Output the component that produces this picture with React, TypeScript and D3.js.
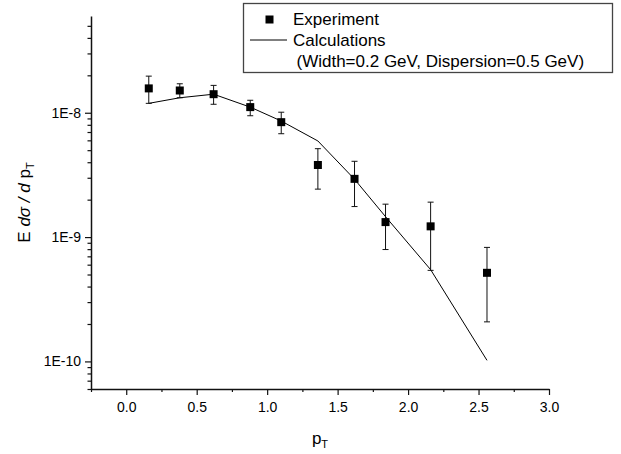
import React, { useEffect, useRef } from 'react';
import * as d3 from 'd3';

// measured points (pT, value, error low, error high)
const expPt = [0.16, 0.38, 0.62, 0.88, 1.1, 1.36, 1.62, 1.84, 2.16, 2.56];
const expVal = [1.57e-8, 1.51e-8, 1.41e-8, 1.11e-8, 8.4e-9, 3.8e-9, 2.94e-9, 1.32e-9, 1.22e-9, 5.16e-10];
const expLow = [1.19e-8, 1.32e-8, 1.17e-8, 9.46e-9, 6.78e-9, 2.43e-9, 1.76e-9, 7.94e-10, 5.4e-10, 2.08e-10];
const expHigh = [1.97e-8, 1.71e-8, 1.66e-8, 1.26e-8, 1.01e-8, 5.14e-9, 4.07e-9, 1.84e-9, 1.91e-9, 8.26e-10];

// calculation curve
const calcPt = [0.16, 0.38, 0.62, 0.88, 1.1, 1.36, 1.62, 1.84, 2.16, 2.56];
const calcVal = [1.19e-8, 1.32e-8, 1.41e-8, 1.11e-8, 8.58e-9, 5.93e-9, 2.92e-9, 1.46e-9, 5.47e-10, 1.02e-10];

const xTicks = [0, 0.5, 1.0, 1.5, 2.0, 2.5, 3.0];
const xMinor = [-0.25, 0.25, 0.75, 1.25, 1.75, 2.25, 2.75];
const yTicks = [1e-10, 1e-9, 1e-8];
const yTickLabels = ['1E-10', '1E-9', '1E-8'];

const FONT = '"Liberation Sans", Arial, sans-serif';

const Chart = ({ width = 621, height = 454 }) => {
  const svgRef = useRef(null);

  useEffect(() => {
    const margin = { top: 16, right: 72, bottom: 65, left: 91 };
    const innerWidth = width - margin.left - margin.right;
    const innerHeight = height - margin.top - margin.bottom;

    const svg = d3.select(svgRef.current)
      .attr('width', width)
      .attr('height', height);

    svg.selectAll('*').remove();

    const g = svg.append('g')
      .attr('transform', `translate(${margin.left}, ${margin.top})`);

    const xScale = d3.scaleLinear().domain([-0.25, 3.0]).range([0, innerWidth]);
    const yScale = d3.scaleLog().domain([6e-11, 6e-8]).range([innerHeight, 0]);

    // log minor ticks
    const yMinor = [];
    [1e-11, 1e-10, 1e-9, 1e-8].forEach(dec => {
      for (let k = 2; k <= 9; k++) {
        const v = dec * k;
        if (v >= 6e-11 && v <= 6e-8) yMinor.push(v);
      }
    });

    // x axis
    const xAxis = g.append('g')
      .attr('transform', `translate(0, ${innerHeight})`)
      .call(d3.axisBottom(xScale).tickValues(xTicks).tickSize(6).tickSizeOuter(0).tickPadding(7)
        .tickFormat(d3.format('.1f')));
    g.append('g')
      .attr('transform', `translate(0, ${innerHeight})`)
      .call(d3.axisBottom(xScale).tickValues(xMinor).tickSize(3).tickSizeOuter(0).tickFormat(() => ''))
      .select('.domain').remove();

    // y axis
    const yAxis = g.append('g')
      .call(d3.axisLeft(yScale).tickValues(yTicks).tickSize(6).tickSizeOuter(0).tickPadding(4)
        .tickFormat((d, i) => yTickLabels[i]));
    g.append('g')
      .call(d3.axisLeft(yScale).tickValues(yMinor).tickSize(3.5).tickSizeOuter(0).tickFormat(() => ''))
      .select('.domain').remove();

    [xAxis, yAxis].forEach(a => {
      a.select('.domain').attr('stroke', '#111').attr('stroke-width', 1.5);
      a.selectAll('text').style('font-family', FONT).style('font-size', '14px').attr('fill', '#000');
    });
    g.selectAll('.tick line').attr('stroke', '#111').attr('stroke-width', 1.2);

    // calculation line
    const line = d3.line()
      .x((d, i) => xScale(calcPt[i]))
      .y(d => yScale(d));
    g.append('path')
      .datum(calcVal)
      .attr('fill', 'none')
      .attr('stroke', '#000')
      .attr('stroke-width', 1)
      .attr('d', line);

    // error bars
    const bars = g.append('g').attr('stroke', '#111').attr('stroke-width', 1);
    expPt.forEach((p, i) => {
      const cx = xScale(p);
      bars.append('line').attr('x1', cx).attr('x2', cx)
        .attr('y1', yScale(expLow[i])).attr('y2', yScale(expHigh[i]));
      [expLow[i], expHigh[i]].forEach(v => {
        bars.append('line').attr('x1', cx - 3).attr('x2', cx + 3)
          .attr('y1', yScale(v)).attr('y2', yScale(v));
      });
    });

    // markers
    g.append('g')
      .selectAll('rect')
      .data(expVal)
      .enter().append('rect')
        .attr('x', (d, i) => xScale(expPt[i]) - 4)
        .attr('y', d => yScale(d) - 4)
        .attr('width', 8)
        .attr('height', 8)
        .attr('fill', '#000');

    // axis titles
    const xt = svg.append('text')
      .attr('x', margin.left + innerWidth / 2)
      .attr('y', 444)
      .attr('text-anchor', 'middle')
      .style('font-family', FONT)
      .style('font-size', '17px');
    xt.append('tspan').text('p');
    xt.append('tspan').attr('dy', 4).style('font-size', '11px').text('T');

    const yt = svg.append('text')
      .attr('transform', `translate(30, ${margin.top + innerHeight / 2}) rotate(-90)`)
      .attr('text-anchor', 'middle')
      .style('font-family', FONT)
      .style('font-size', '17px');
    yt.append('tspan').text('E ');
    yt.append('tspan').style('font-style', 'italic').text('dσ / d');
    yt.append('tspan').text(' p');
    yt.append('tspan').attr('dy', 4).style('font-size', '11px').text('T');

    // legend
    const lg = svg.append('g');
    lg.append('rect')
      .attr('x', 243.5).attr('y', 3.5).attr('width', 369).attr('height', 69)
      .attr('fill', '#fff').attr('stroke', '#444').attr('stroke-width', 1.3);
    lg.append('rect')
      .attr('x', 265.5).attr('y', 15.5).attr('width', 8).attr('height', 8).attr('fill', '#000');
    lg.append('line')
      .attr('x1', 250).attr('x2', 287).attr('y1', 40).attr('y2', 40)
      .attr('stroke', '#000').attr('stroke-width', 1);
    const legendText = [
      { t: 'Experiment', x: 293, y: 25 },
      { t: 'Calculations', x: 293, y: 46 },
      { t: '(Width=0.2 GeV, Dispersion=0.5 GeV)', x: 296.5, y: 67 },
    ];
    legendText.forEach(l => {
      lg.append('text').attr('x', l.x).attr('y', l.y)
        .style('font-family', FONT).style('font-size', '17px')
        .text(l.t);
    });
  }, [width, height]);

  return (
    <svg ref={svgRef} style={{ position: 'absolute', left: 0, top: 0, background: '#fff' }}></svg>
  );
};

export default function App() {
  return <Chart />;
}
